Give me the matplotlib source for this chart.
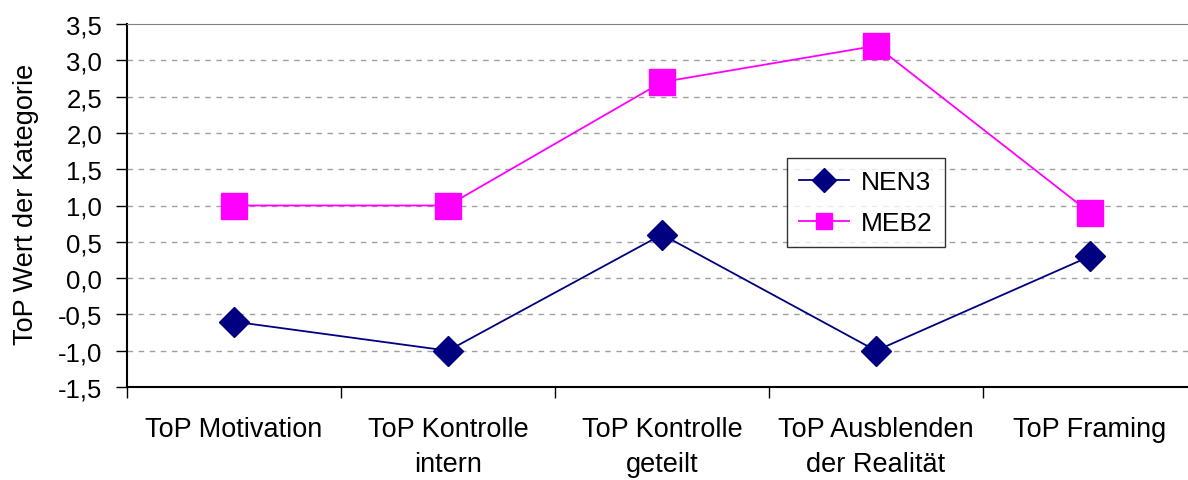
import matplotlib.pyplot as plt
import numpy as np

plt.rcParams['font.family'] = ['Liberation Sans', 'DejaVu Sans']

categories = ['ToP Motivation', 'ToP Kontrolle\nintern', 'ToP Kontrolle\ngeteilt',
              'ToP Ausblenden\nder Realität', 'ToP Framing']
nen3 = [-0.6, -1.0, 0.6, -1.0, 0.3]
meb2 = [1.0, 1.0, 2.7, 3.2, 0.9]
yticks = [-1.5, -1.0, -0.5, 0.0, 0.5, 1.0, 1.5, 2.0, 2.5, 3.0, 3.5]

W, H = 1188, 481
fig = plt.figure(figsize=(W / 100, H / 100), dpi=100)
left, right, top, bottom = 127, 1197, 25, 388
ax = fig.add_axes([left / W, 1 - bottom / H, (right - left) / W, (bottom - top) / H])

x = np.arange(len(categories))
ax.plot(x, nen3, color='#000080', lw=1.3, marker='D', ms=15, label='NEN3')
ax.plot(x, meb2, color='#ff00ff', lw=1.3, marker='s', ms=19, label='MEB2')

ax.set_xlim(-0.5, len(categories) - 0.5)
ax.set_ylim(-1.5, 3.5)
ax.set_yticks(yticks)
ax.set_yticklabels([f'{v:.1f}'.replace('.', ',') for v in yticks], fontsize=18.5)
for v in yticks[1:-1]:
    ax.axhline(v, color='#a0a0a0', lw=1, ls=(0, (4, 4)), zorder=0)

# category labels sit between the boundary tick marks
ax.set_xticks(np.arange(len(categories) + 1) - 0.5)
ax.set_xticklabels([])
ax.set_xticks(x, minor=True)
ax.set_xticklabels(categories, minor=True, fontsize=19.5, linespacing=1.45)
ax.tick_params(axis='x', which='minor', length=0, pad=21)
ax.tick_params(axis='x', which='major', length=8, direction='out', color='black', width=1)
ax.tick_params(axis='y', length=8, direction='out', width=1, pad=10)

ax.spines['top'].set_color('#808080')
ax.spines['right'].set_visible(False)
ax.spines['left'].set_linewidth(1.5)
ax.spines['bottom'].set_linewidth(1.5)

fig.text(26 / W, 1 - 204 / H, 'ToP Wert der Kategorie', fontsize=19.5,
         rotation=90, ha='center', va='center')

leg = ax.legend(loc='upper left',
                bbox_to_anchor=((787 - left) / (right - left), 1 - (159 - top) / (bottom - top)),
                fontsize=19, frameon=True, fancybox=False, edgecolor='black',
                handlelength=1.9, handletextpad=0.45, borderpad=0.45,
                labelspacing=0.65, borderaxespad=0)
leg.get_frame().set_linewidth(1)
for h in leg.legend_handles:
    h.set_markersize(12)

fig.savefig('out.png', dpi=100)
